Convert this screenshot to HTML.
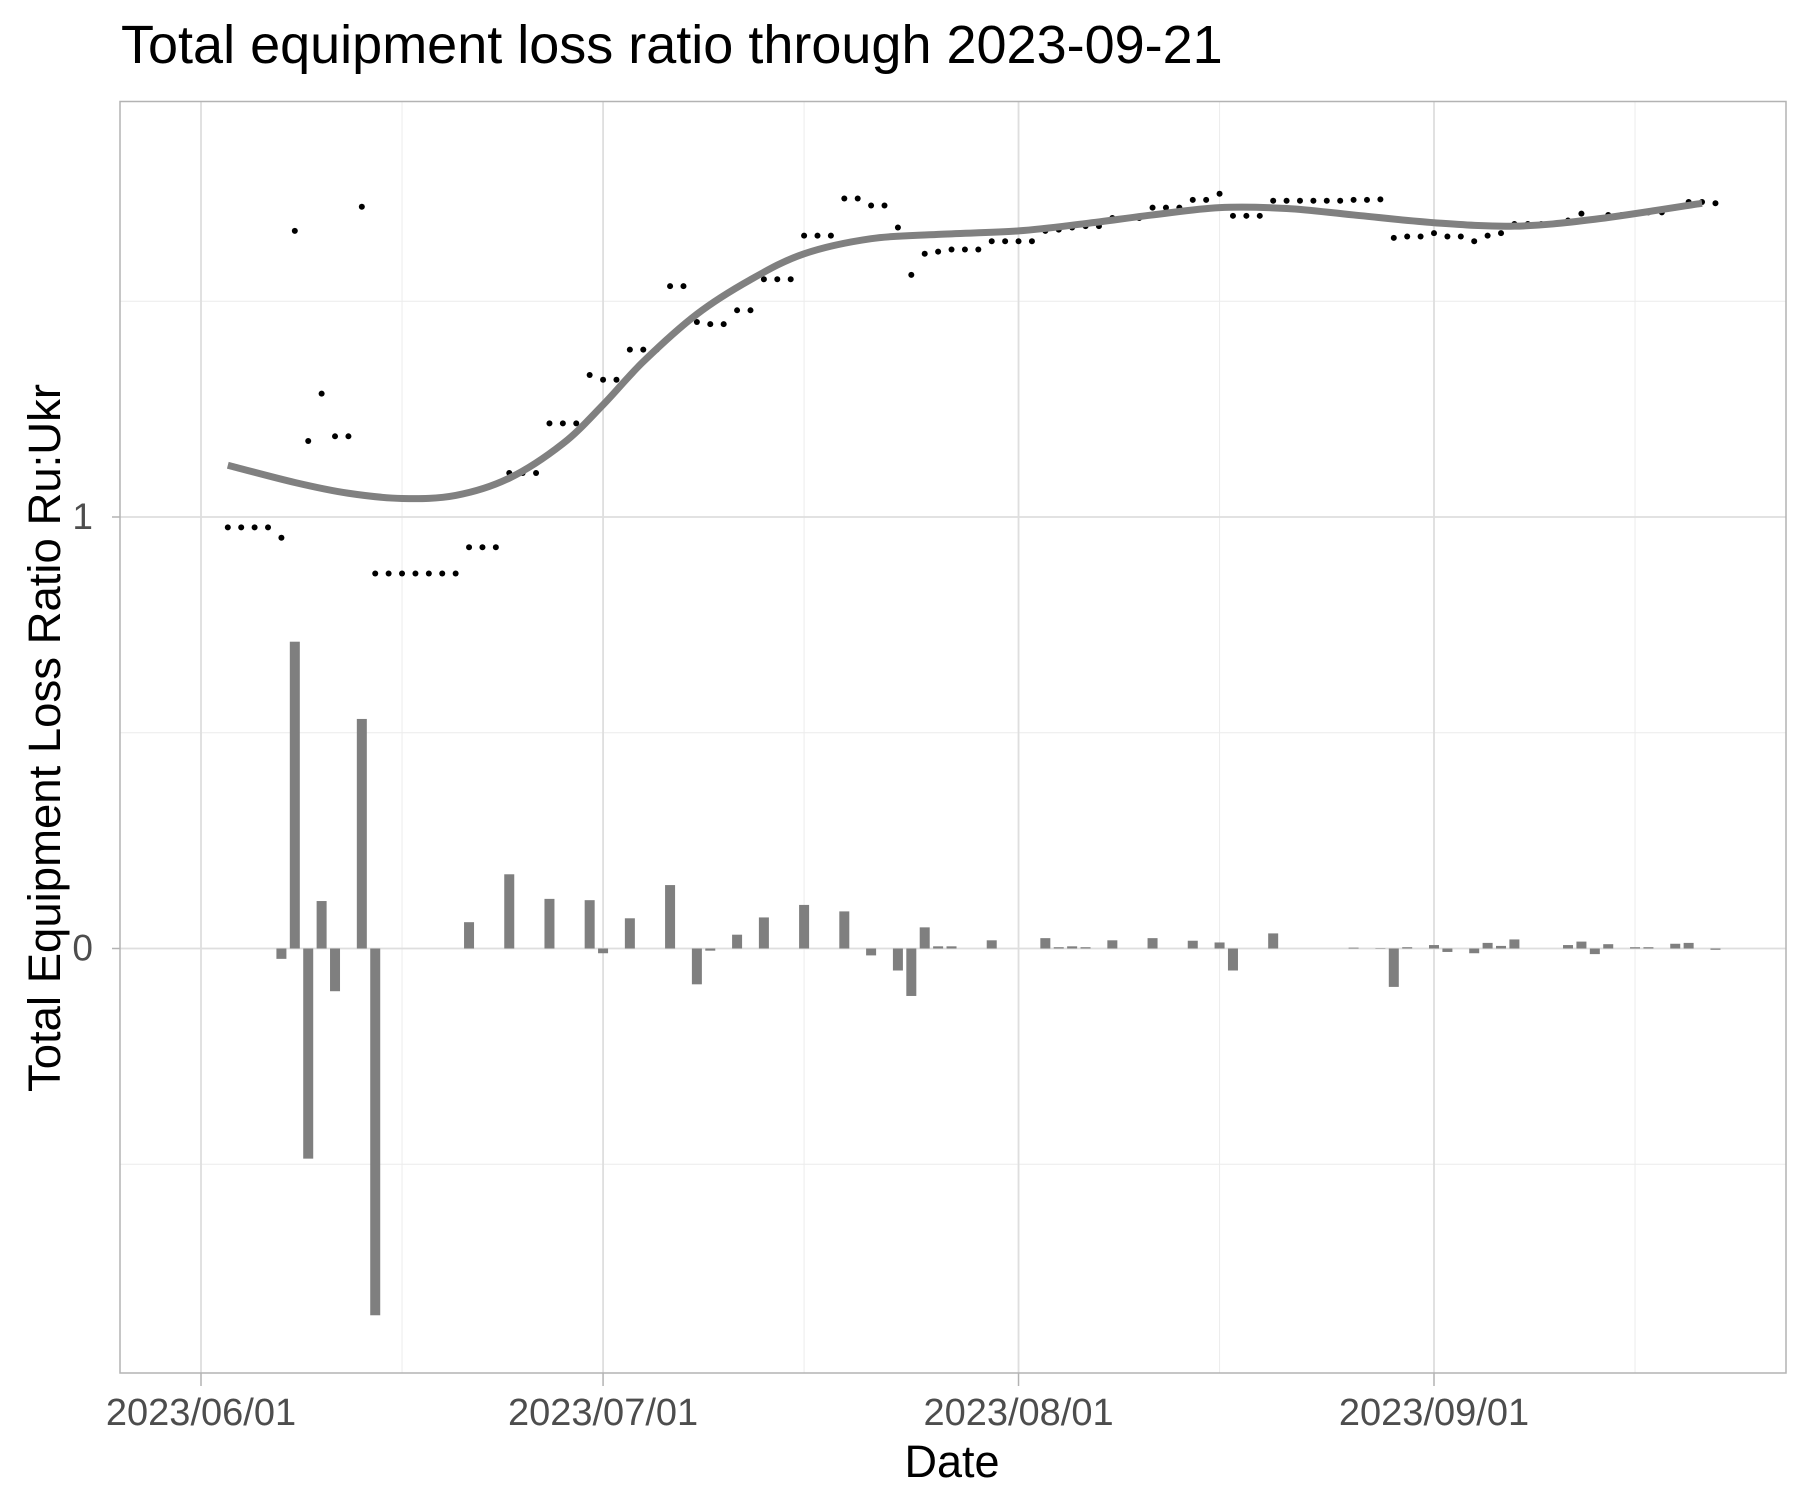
<!DOCTYPE html>
<html><head><meta charset="utf-8"><style>
html,body{margin:0;padding:0;background:#fff}
svg{display:block;font-family:"Liberation Sans",Arial,sans-serif}
</style></head><body>
<svg id="chart" width="1800" height="1500" viewBox="0 0 1800 1500">
<text x="121" y="63" font-size="54" fill="#000">Total equipment loss ratio through 2023-09-21</text>
<g id="grid"></g>
<g id="bars"></g>
<g id="pts"></g>
<g id="smooth"></g>
<rect x="120" y="101.5" width="1666" height="1271.5" fill="none" stroke="#b3b3b3" stroke-width="1.5"/>
<g id="axes"></g>
<text x="952" y="1477" font-size="45" text-anchor="middle" fill="#000">Date</text>
<text transform="translate(60,738) rotate(-90)" font-size="45.5" text-anchor="middle" fill="#000">Total Equipment Loss Ratio Ru:Ukr</text>
</svg>
<script>
// day index = days since 2023-06-01
const startDay = 2;
const ratios = [0.976,0.976,0.976,0.976,0.952,1.663,1.176,1.286,1.187,1.187,1.719,
0.869,0.869,0.869,0.869,0.869,0.869,0.869,0.930,0.930,0.930,1.102,1.102,1.102,
1.217,1.217,1.217,1.329,1.318,1.318,1.388,1.388,1.388,1.535,1.535,1.452,1.447,1.447,
1.479,1.479,1.551,1.551,1.551,1.652,1.652,1.652,1.738,1.738,1.722,1.722,1.671,1.561,
1.610,1.615,1.620,1.620,1.620,1.639,1.639,1.639,1.639,1.663,1.666,1.671,1.674,1.674,
1.693,1.693,1.693,1.717,1.717,1.717,1.735,1.735,1.749,1.698,1.698,1.698,1.733,1.733,
1.733,1.733,1.733,1.733,1.735,1.735,1.736,1.647,1.650,1.650,1.658,1.650,1.650,1.639,
1.652,1.658,1.679,1.679,1.679,1.679,1.687,1.703,1.690,1.700,1.700,1.703,1.706,1.706,
1.717,1.730,1.730,1.727];
const smoothDays = [2,7,11,15,19,23,27,30,33,37,41,45,50,55,61,66,71,76,81,86,92,98,104,112];
const smoothVals = [1.12,1.08,1.055,1.043,1.05,1.09,1.17,1.26,1.36,1.47,1.55,1.61,1.645,1.655,1.663,1.68,1.70,1.717,1.715,1.70,1.682,1.674,1.69,1.727];
const xTickDays = [0,30,61,92];
const xTickLabels = ["2023/06/01","2023/07/01","2023/08/01","2023/09/01"];
const xMinorDays = [15,45,76,107];
const yTicks = [0,1];
const yMinor = [-0.5,0.5,1.5];

const NS="http://www.w3.org/2000/svg";
const L=120,R=1786,T=101.5,B=1373;
const x=d=>201+d*(1434-201)/92;
const y=v=>948.5-v*431.5;
function mk(tag,parent,attrs){const e=document.createElementNS(NS,tag);for(const k in attrs)e.setAttribute(k,attrs[k]);parent.appendChild(e);return e;}
const grid=document.getElementById('grid'),axes=document.getElementById('axes');
yMinor.forEach(v=>{const e=mk('line',grid,{x1:L,x2:R,y1:y(v),y2:y(v),stroke:'#ececec','stroke-width':1});

});
xMinorDays.forEach(d=>{const e=mk('line',grid,{x1:x(d),x2:x(d),y1:T,y2:B,stroke:'#ececec','stroke-width':1});

});
yTicks.forEach(v=>{const e=mk('line',grid,{x1:L,x2:R,y1:y(v),y2:y(v),stroke:'#dedede','stroke-width':1.8});


const t=mk('text',axes,{x:93,y:y(v)+12,'font-size':37,'text-anchor':'end',fill:'#4d4d4d'});t.textContent=String(v);


const k=mk('line',axes,{x1:L-8,x2:L,y1:y(v),y2:y(v),stroke:'#b3b3b3','stroke-width':1.5});

});
xTickDays.forEach((d,i)=>{const e=mk('line',grid,{x1:x(d),x2:x(d),y1:T,y2:B,stroke:'#dedede','stroke-width':1.8});


const k=mk('line',axes,{x1:x(d),x2:x(d),y1:B,y2:B+13,stroke:'#b3b3b3','stroke-width':1.5});


const t=mk('text',axes,{x:x(d),y:1425,'font-size':38,'text-anchor':'middle',fill:'#4d4d4d'});t.textContent=xTickLabels[i];

});
// bars: daily change in ratio
const bars=document.getElementById('bars');
for(let i=1;i<ratios.length;i++){const dv=ratios[i]-ratios[i-1];const d=startDay+i;
const y0=y(0),y1=y(dv);
const r=mk('rect',bars,{x:x(d)-5,y:Math.min(y0,y1),width:10,height:Math.abs(y1-y0),fill:'#7f7f7f'});

}
// points
const pts=document.getElementById('pts');
ratios.forEach((v,i)=>{const c=mk('circle',pts,{cx:x(startDay+i),cy:y(v),r:3,fill:'#000'});

});
// smooth curve (catmull-rom)
const P=smoothDays.map((d,i)=>[x(d),y(smoothVals[i])]);
let dstr=`M${P[0][0]},${P[0][1]}`;
for(let i=0;i<P.length-1;i++){const p0=P[Math.max(0,i-1)],p1=P[i],p2=P[i+1],p3=P[Math.min(P.length-1,i+2)];
dstr+=` C${p1[0]+(p2[0]-p0[0])/6},${p1[1]+(p2[1]-p0[1])/6} ${p2[0]-(p3[0]-p1[0])/6},${p2[1]-(p3[1]-p1[1])/6} ${p2[0]},${p2[1]}`;}
const sm=mk('path',document.getElementById('smooth'),{d:dstr,fill:'none',stroke:'#808080','stroke-width':7,'stroke-linecap':'butt'});


</script>
</body></html>
